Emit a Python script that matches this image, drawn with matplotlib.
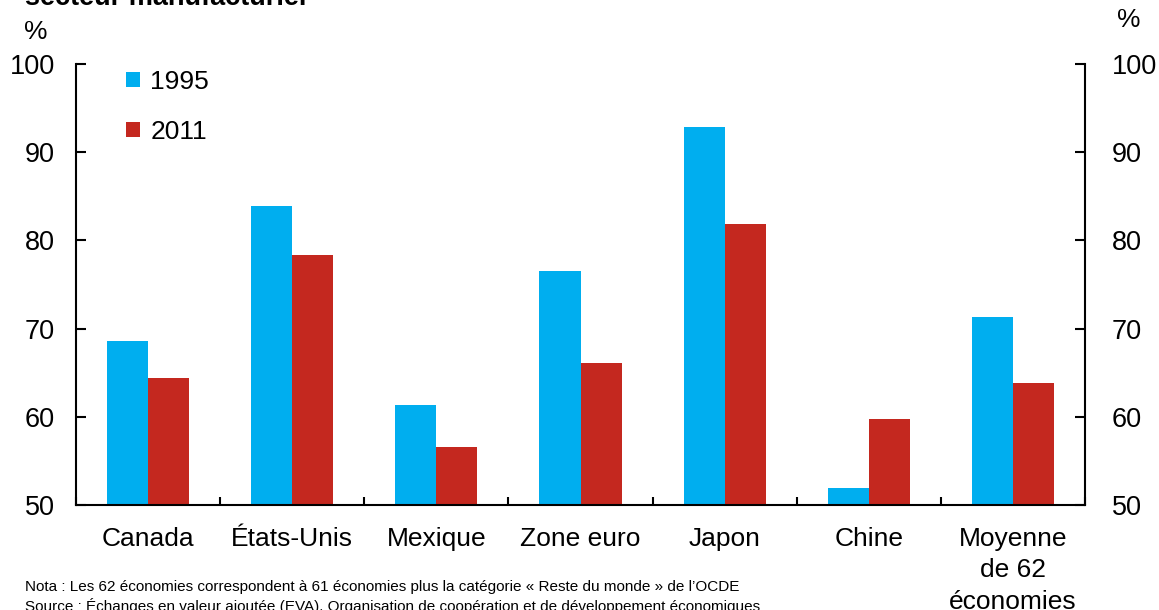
import matplotlib
matplotlib.use("Agg")
import matplotlib.pyplot as plt
import numpy as np

categories = ["Canada", "États-Unis", "Mexique", "Zone euro", "Japon", "Chine", "Moyenne\nde 62\néconomies"]
values_1995 = [68.6, 83.9, 61.3, 76.5, 92.9, 51.9, 71.3]
values_2011 = [64.4, 78.4, 56.6, 66.1, 81.9, 59.8, 63.8]
series_labels = ["1995", "2011"]
yticks = [50, 60, 70, 80, 90, 100]

plt.rcParams['font.family'] = ['Liberation Sans', 'DejaVu Sans']

fig = plt.figure(figsize=(11.59, 6.10), dpi=100)
ax = fig.add_axes([76/1159, 1-505/610, (1085-76)/1159, (505-64)/610])

x = np.arange(len(categories))
w = 0.285
blue = "#00AEEF"
red = "#C4281F"
ax.bar(x - w/2, np.array(values_1995) - 50, width=w, bottom=50, color=blue, label=series_labels[0])
ax.bar(x + w/2, np.array(values_2011) - 50, width=w, bottom=50, color=red, label=series_labels[1])

ax.set_xlim(-0.5, len(categories) - 0.5)
ax.set_ylim(50, 100)
ax.set_yticks(yticks)
ax.tick_params(axis='y', which='major', direction='in', length=7, width=1.5, labelsize=19.5, pad=15,
               left=True, right=True, labelleft=True, labelright=True)
ax.tick_params(axis='y', which='major', labelright=True)
for lbl in ax.get_yticklabels(which='major'):
    pass
ax.yaxis.set_tick_params(which='major', pad=15)
ax.set_xticks(np.arange(len(categories) + 1) - 0.5, minor=True)
ax.set_xticks(x)
ax.set_xticklabels(categories, fontsize=19, linespacing=1.38, va='top')
ax.tick_params(axis='x', which='major', length=0, pad=16)
ax.tick_params(axis='x', which='minor', direction='in', length=6, width=1.5)
ax.spines['top'].set_visible(False)
for s in ['left', 'right', 'bottom']:
    ax.spines[s].set_linewidth(1.5)

# shift right-side tick labels a bit further from the spine
import matplotlib.transforms as mtransforms
offset = mtransforms.ScaledTranslation(6/100, 0, fig.dpi_scale_trans)
for t in ax.yaxis.get_major_ticks():
    t.label2.set_transform(t.label2.get_transform() + offset)

leg = ax.legend(loc='upper left', bbox_to_anchor=(0.026, 1.04), frameon=False, fontsize=19,
                handlelength=0.52, handleheight=0.52, handletextpad=0.4, labelspacing=0.98)

fig.text(36/1159, 1-32/610, "%", fontsize=19, ha='center', va='center')
fig.text(1129/1159, 1-20/610, "%", fontsize=19, ha='center', va='center')
fig.text(25/1159, 1-5/610, "secteur manufacturier", fontsize=19.5, fontweight='bold', ha='left', va='baseline')

fig.text(25/1159, 1-587/610, "Nota : Les 62 économies correspondent à 61 économies plus la catégorie « Reste du monde » de l’OCDE",
         fontsize=11, ha='left', va='center')
fig.text(25/1159, 1-606/610, "Source : Échanges en valeur ajoutée (EVA), Organisation de coopération et de développement économiques",
         fontsize=11, ha='left', va='center')

fig.savefig("out.png", dpi=100)
